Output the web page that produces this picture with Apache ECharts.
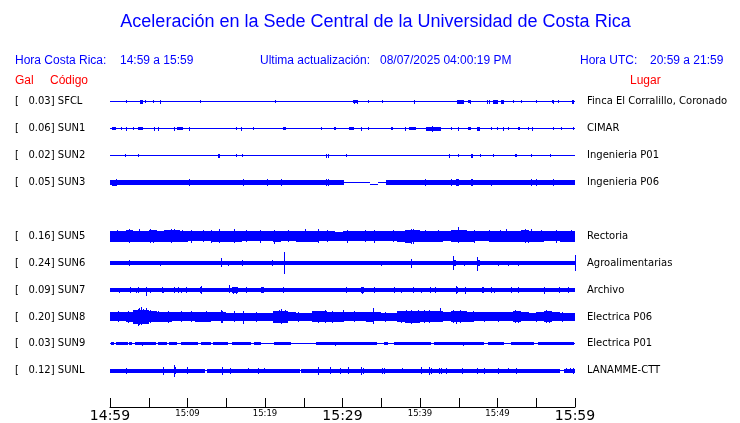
<!DOCTYPE html>
<html>
<head>
<meta charset="utf-8">
<script src="https://cdn.jsdelivr.net/npm/echarts@6/dist/echarts.min.js"></script>
<style>
html,body{margin:0;padding:0;background:#fff;}
#chart{width:740px;height:423px;}
</style>
</head>
<body>
<div id="chart"></div>
<script>
// ---------- data ----------
const stations = ['SFCL','SUN1','SUN2','SUN3','SUN5','SUN6','SUN7','SUN8','SUN9','SUNL'];
const rowSlots = [0,1,2,3,5,6,7,8,9,10];
const galValues = ['0.03','0.06','0.02','0.05','0.16','0.24','0.09','0.20','0.03','0.12'];
const places = ['Finca El Corralillo, Coronado','CIMAR','Ingenieria P01','Ingenieria P06','Rectoria','Agroalimentarias','Archivo','Electrica P06','Electrica P01','LANAMME-CTT'];
const tickLabels = ['14:59','','15:09','','15:19','','15:29','','15:39','','15:49','','15:59'];
const bigTickLabels = ['14:59','15:29','15:59'];
const titleText = 'Aceleración en la Sede Central de la Universidad de Costa Rica';
const horaCR = '14:59 a 15:59';
const lastUpdate = '08/07/2025 04:00:19 PM';
const horaUTC = '20:59 a 21:59';

// bands: [minStart, minEnd, ampUp, ampDown]; spikes: [minute, ampUp, ampDown]
const sfclBands = [[0,60,0.5,0.5],[3.9,4.3,2,2],[31.4,32.0,1.5,1.5],[44.8,45.7,2,2],[46.2,46.6,1.5,1.5],[49.4,50.0,1.8,1.8],[50.5,50.9,1.8,1.8],[57.0,57.3,1.5,1.5],[59.6,59.9,2,2]];
const sfclSpikes = [[2.0,2,1.5],[4.5,1.5,1.5],[5.6,2,1],[6.4,2,2],[11.6,2,1],[21.3,2,1],[31.5,2,2],[31.9,2,2],[33.3,2,1.5],[35.1,2,1],[39.2,2,2],[46.4,2,2],[48.6,2,2],[48.9,2,2],[52.0,2,1.5],[53.0,2,1],[55.0,2,1.5],[57.2,2,2],[57.8,2,1.5]];

const sun1Bands = [[0,60,0.5,0.5],[0.3,0.8,1.5,1.5],[3.6,4.2,1.5,1.5],[8.7,9.4,1.5,1.5],[22.3,22.7,1.5,1.5],[28.9,29.2,1.5,1.5],[30.9,31.5,1.5,1.5],[36.3,36.5,1.5,1.5],[38.6,39.5,1.5,1.5],[40.8,42.7,2,2],[46.2,46.6,1.5,1.5],[47.4,47.7,1.8,1.8],[52.6,52.9,1.5,1.5],[57.1,57.3,1.5,1.5]];
const sun1Spikes = [[1.4,2,1.5],[2.1,2,2],[3.0,2,1.5],[5.7,2,2],[6.2,1.5,2],[8.3,2,2],[10.2,2,2],[16.3,2,1.5],[16.9,2,2],[18.4,2,1.5],[27.2,2,1.5],[32.4,2,2],[33.3,2,1.5],[38.0,1.5,2],[41.6,2.5,3.5],[44.0,2,1.5],[44.9,2,2],[49.2,2,1.5],[49.9,1.5,1.5],[50.7,2,2],[51.3,2,1.5],[53.9,2,1.5],[54.5,2,2],[58.2,1.5,1.5],[59.7,2,1.5]];

const sun2Bands = [[0,60,0.5,0.5],[46.6,46.9,2,2]];
const sun2Spikes = [[1.9,2,1.5],[3.6,1.5,1.5],[13.9,2,2],[14.1,2,2],[16.3,1.5,1.5],[17.0,2,1],[27.9,2,2],[28.1,1.5,2],[30.5,1.5,1],[43.8,2,2],[44.9,1.5,1.5],[47.7,1.5,1.5],[49.4,1.5,1],[52.2,1.5,1.5],[52.4,1.5,1.5],[54.3,1.5,1],[56.8,1.5,1]];

const sun3Bands = [[0,30.2,2.2,2.2],[30.2,33.6,0.5,0.5],[33.6,34.6,-1,2],[34.6,35.6,0.5,0.5],[35.6,60,2.2,2.2],[0.3,0.9,3,3],[44.7,45.0,3.5,3.5],[46.6,46.9,3.2,3.2]];
const sun3Spikes = [[0.4,3,3],[0.8,3.5,3.5],[10.2,3.5,3],[17.1,3.5,3],[20.3,3.5,3.5],[22.0,3.5,3.5],[27.9,3.5,3.5],[28.1,3.5,3],[40.6,3.5,3.5],[44.0,3.5,3.5],[44.8,4,4],[46.7,3.5,3.5],[49.1,3,3],[54.3,3.5,3],[55.0,3.5,3.5],[57.1,3.5,3.5]];

// minute-by-minute envelope (half amplitude) for the noisy stations
const sun5Envelope = [5.5,5.5,6,5.5,5.5,6,5.5,6,6,5.5,5,5,5,5.5,5.5,5.5,5.5,5,5,5,5,5.5,5,5,5.5,5.5,5.5,5,5,4.5,5,5,5,5,5,5,5,5.5,6.5,6,5.5,5.5,5.5,5,6,6,5.5,5,5,5.5,5.5,5.5,5.5,6,5.5,5.5,5,5,5.5,5.5];
const sun5Spikes = [[0.9,6,5.5],[2.4,7.5,6.5],[3.8,7,6],[5.2,7.5,7],[5.6,6.5,6.5],[7.9,7,6.5],[8.3,7.5,6],[9.3,6.5,6],[10.5,6,6.5],[12.0,6,6],[13.0,6,6.5],[14.1,7,7],[16.0,7,6.5],[17.5,6,6],[19.4,6,6.5],[21.2,6,7.5],[23.0,6,6],[25.1,7,6],[26.8,7,6.5],[28.0,6,6],[30.6,6.5,6.5],[32.9,6,5.5],[34.1,6,6.5],[36.5,6,6],[38.8,7.5,7.5],[39.1,7.5,8],[40.6,6.5,6],[42.3,6.5,6],[44.9,9,7],[47.0,6,6.5],[48.9,6,6],[50.3,6,5.5],[51.1,7,6],[53.5,7,6.5],[53.9,6.5,7],[54.3,7,6],[55.6,6,6],[57.5,6,6.5],[59.5,6,6]];

const sun6Bands = [[0,60,1.8,1.8],[44.2,44.6,3,3],[47.3,47.7,3,3]];
const sun6Spikes = [[2.4,3,3],[6.5,2.5,2.5],[9.5,2.5,2],[14.3,5,4],[15.2,2.5,2.5],[17.0,3,3],[18.5,2.5,2],[20.9,3,3],[22.4,11,10.5],[23.2,2.5,2],[35.0,2.5,2.5],[37.7,2.5,2],[38.8,4,5],[44.3,7.5,6.5],[45.7,2.5,2.5],[47.4,6.5,7.5],[50.0,2.5,2.5],[51.3,2.5,2.5],[52.6,2.5,2.5],[59.95,8.5,8]];

const sun7Bands = [[0,60,1.8,1.8],[11.6,11.9,2.8,2.8],[15.8,16.5,2.8,2.8],[19.5,19.9,2.8,2.8],[32.4,32.8,2.8,2.8],[44.6,44.9,2.8,2.8],[48.0,48.3,2.8,2.8]];
const sun7Spikes = [[1.1,2.5,2.5],[2.6,3,3],[3.4,2.5,2.5],[3.6,3,2.5],[4.7,3,5.5],[5.2,2.5,3],[6.7,3,2.5],[6.9,2.5,3],[8.3,3,3],[8.8,3,3],[9.1,2.5,2.5],[9.8,3,3],[11.7,4,3.5],[15.4,5.5,3],[15.9,3,3.5],[16.2,3,4],[17.5,3,3],[19.6,3,3],[22.3,3,2.5],[30.5,3,3],[32.5,3,3.5],[34.1,3.5,3],[36.6,3,2.5],[37.5,2.5,3],[39.1,3,3],[40.1,2.5,3],[41.3,3,3],[41.9,3,2.5],[44.7,4,3.5],[45.8,3.5,4],[48.1,3,3],[49.2,3,2.5],[49.6,2.5,3],[51.7,3,3],[52.7,3,2.5],[56.0,3.5,3.5],[57.9,3,2.5],[59.1,3,3]];

const sun8Envelope = [4.5,4.5,5,7,7,5.5,5,5,4.5,4.5,4.5,5,5,4.5,4.5,4,4,4,4,4,4,6,6,4.5,4,4,5.5,5.5,5,5,4.5,4.5,4.5,5,4.5,4,4,5.5,6,6,5.5,5.5,5.5,4.5,5.5,5.5,5,4.5,4.5,4.5,4.5,4.5,5.5,4.5,4,4.5,5.5,4.5,4,4];
const sun8Spikes = [[1.0,6,5.5],[2.3,5.5,6],[3.3,7,6],[3.6,8,9],[3.8,9,8],[4.0,9.5,8.5],[4.3,8,7.5],[4.6,8.5,7],[5.1,7,6.5],[6.2,6,5.5],[7.5,5.5,6],[9.2,6,5.5],[10.5,5.5,5.5],[12.4,6,5.5],[14.3,6.5,6],[14.5,6,6.5],[16.0,6,5.5],[17.1,5.5,7],[18.8,5,5],[21.8,7,6],[22.1,7.5,7],[22.6,6.5,6.5],[24.3,5,5],[26.8,6,6.5],[27.7,7,6],[28.6,5.5,6],[30.0,6.5,5.5],[31.5,5.5,5.5],[33.9,9,7],[35.5,5,5],[37.6,6,6],[38.2,6.5,6],[38.9,6.5,7],[39.7,6.5,6],[40.5,6.5,6.5],[41.2,6.5,6],[42.6,8.5,5.5],[44.2,6.5,6.5],[44.7,6,7],[45.1,6.5,6.5],[46.9,5.5,5.5],[48.3,5,5.5],[50.1,5,5],[52.2,6.5,6],[52.6,6,6],[55.0,5,5.5],[56.3,6.5,6],[56.7,6,6.5],[58.3,5,5]];

const sun9Bands = [[0,60,0.5,0.5],[0.1,0.5,1.5,1.5],[0.8,2.3,1.5,1.5],[2.5,2.8,1.5,1.5],[3.2,5.9,1.5,1.5],[6.2,7.4,1.5,1.5],[7.6,8.7,1.5,1.5],[9.2,11.3,1.5,1.5],[11.7,13.0,1.5,1.5],[13.3,15.2,1.5,1.5],[15.8,18.2,1.5,1.5],[18.6,19.5,1.5,1.5],[21.2,23.4,1.5,1.5],[26.6,34.5,1.5,1.5],[35.4,35.9,1.5,1.5],[36.6,41.4,1.5,1.5],[41.8,48.3,1.5,1.5],[48.8,50.8,1.5,1.5],[51.7,54.7,1.5,1.5],[55.2,59.9,1.5,1.5]];
const sun9Spikes = [[4.1,2,2],[10.4,2,1.5],[29.0,2,2],[38.0,2,1.5],[45.6,2,2],[57.0,2,1.5]];

const sunlBands = [[0,12.3,2,2],[12.3,12.55,0.5,0.5],[12.55,24.5,2,2],[24.5,24.7,0.5,0.5],[24.7,58.1,2,2],[58.1,58.6,0.5,0.5],[58.6,60,2,2]];
const sunlSpikes = [[2.1,2.5,3],[6.9,4,4],[8.2,6,6],[8.4,3.5,3.5],[9.9,3.5,3],[14.4,4,4],[15.5,3,3],[17.8,3,2.5],[19.1,3,3],[19.9,3,2.5],[26.9,4,4],[28.4,3.5,3.5],[29.7,3,3],[30.7,3.5,3.5],[32.4,4,4],[32.6,3,3],[35.1,3,3],[35.4,3,3],[37.7,3,2.5],[40.1,3.5,3],[41.2,4,4],[41.4,3,3],[42.5,3,3],[42.7,3,3],[43.4,3,3],[45.4,3,3],[47.4,3,3],[48.3,3,3],[50.0,3,3],[51.3,3,2.5],[52.4,3,3],[58.8,3,2.5],[59.3,3,2.5],[59.7,3,3]];

// ---------- build ----------
const ROW = 27;
function envelopeBands(env){
  return env.map((a,i)=>[i,i+1,a,a]);
}
const traces = [
  {bands:sfclBands, spikes:sfclSpikes},
  {bands:sun1Bands, spikes:sun1Spikes},
  {bands:sun2Bands, spikes:sun2Spikes},
  {bands:sun3Bands, spikes:sun3Spikes},
  {bands:envelopeBands(sun5Envelope), spikes:sun5Spikes},
  {bands:sun6Bands, spikes:sun6Spikes},
  {bands:sun7Bands, spikes:sun7Spikes},
  {bands:envelopeBands(sun8Envelope), spikes:sun8Spikes},
  {bands:sun9Bands, spikes:sun9Spikes},
  {bands:sunlBands, spikes:sunlSpikes}
];
const TRACE_COLOR = '#0000ff';

function renderItem(params, api){
  const t0 = api.value(0), t1 = api.value(1), top = api.value(2), bot = api.value(3);
  const p0 = api.coord([t0, top]);
  const p1 = api.coord([t1, bot]);
  let x0 = Math.round(p0[0]), x1 = Math.round(p1[0]);
  if (x1 - x0 < 1) x1 = x0 + 1;
  let y0 = Math.round(p0[1]), y1 = Math.round(p1[1]);
  if (y1 - y0 < 1) y1 = y0 + 1;
  return {type:'rect', shape:{x:x0, y:y0, width:x1-x0, height:y1-y0}, style:{fill:TRACE_COLOR}};
}

const series = stations.map((name, i)=>{
  const c = rowSlots[i]*ROW;
  const data = [];
  traces[i].bands.forEach(b=>data.push([b[0], b[1], c-b[2], c+b[3]]));
  traces[i].spikes.forEach(s=>data.push([s[0], s[0], c-s[1], c+s[2]]));
  return {
    type:'custom', name:name, renderItem:renderItem, data:data,
    encode:{x:[0,1], y:[2,3]}, animation:false, silent:true
  };
});

function rowIndexOf(v){
  const r = Math.round(v/ROW);
  if (Math.abs(v - r*ROW) > 0.01) return -1;
  return rowSlots.indexOf(r);
}

const blue = '#0000ff', red = '#ff0000';
const hdrFont = 'Liberation Sans, Arial, sans-serif';
function txt(x, y, s, color, size, align){
  return {type:'text', x:x, y:y, silent:true,
    style:{text:s, fill:color, font: size+'px '+hdrFont, textAlign:align||'left', textVerticalAlign:'middle'}};
}

const option = {
  backgroundColor:'#ffffff',
  animation:false,
  grid:{left:110, right:165, top:75, bottom:13, containLabel:false},
  xAxis:{
    type:'value', min:0, max:60, interval:5,
    axisLine:{show:true, onZero:false, lineStyle:{color:'#000', width:1}},
    axisTick:{show:true, inside:true, length:9, lineStyle:{color:'#000'}},
    splitLine:{show:false},
    axisLabel:{
      show:true, margin:2, showMinLabel:true, showMaxLabel:true, hideOverlap:false,
      formatter:function(v){
        const s = tickLabels[Math.round(v/5)];
        if (!s) return '';
        return bigTickLabels.indexOf(s) >= 0 ? '{big|'+s+'}' : '{small|'+s+'}';
      },
      rich:{
        big:{fontSize:14, fontFamily:'DejaVu Sans', color:'#000'},
        small:{fontSize:8.5, fontFamily:'DejaVu Sans', color:'#000'}
      }
    }
  },
  yAxis:[
    {
      type:'value', inverse:true, min:-ROW, max:306.5, interval:ROW, position:'left',
      axisLine:{show:false}, axisTick:{show:false}, splitLine:{show:false},
      axisLabel:{
        show:true, align:'left', margin:95, color:'#000', fontSize:10, fontFamily:'DejaVu Sans',
        formatter:function(v){ const i = rowIndexOf(v); return i<0 ? '' : '[   '+galValues[i]+'] '+stations[i]; }
      }
    },
    {
      type:'value', inverse:true, min:-ROW, max:306.5, interval:ROW, position:'right',
      axisLine:{show:false}, axisTick:{show:false}, splitLine:{show:false},
      axisLabel:{
        show:true, align:'left', margin:12, color:'#000', fontSize:10, fontFamily:'DejaVu Sans',
        formatter:function(v){ const i = rowIndexOf(v); return i<0 ? '' : places[i]; }
      }
    }
  ],
  graphic:[
    txt(375.5, 22.5, titleText, blue, 18, 'center'),
    txt(15, 60.5, 'Hora Costa Rica:', blue, 12),
    txt(120, 60.5, horaCR, blue, 12),
    txt(260, 60.5, 'Ultima actualización:', blue, 12),
    txt(380, 60.5, lastUpdate, blue, 12),
    txt(580, 60.5, 'Hora UTC:', blue, 12),
    txt(650, 60.5, horaUTC, blue, 12),
    txt(15, 80.5, 'Gal', red, 12),
    txt(50, 80.5, 'Código', red, 12),
    txt(630, 80.5, 'Lugar', red, 12)
  ],
  series:series
};

const chart = echarts.init(document.getElementById('chart'), null, {renderer:'canvas'});
chart.setOption(option);
</script>
</body>
</html>
